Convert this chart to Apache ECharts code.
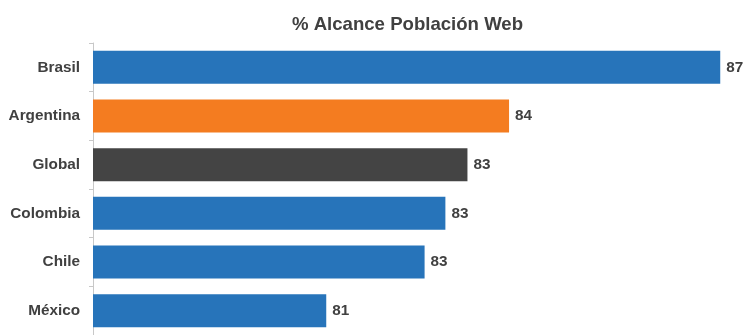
<!DOCTYPE html>
<html>
<head>
<meta charset="utf-8">
<script src="https://cdn.jsdelivr.net/npm/echarts@6/dist/echarts.min.js"></script>
<style>
  html, body { margin: 0; padding: 0; background: #fff; }
  #chart { width: 744px; height: 335px; }
</style>
</head>
<body>
<div id="chart"></div>
<script>
// Reach of web population by country (percent)
const countries = ['Brasil', 'Argentina', 'Global', 'Colombia', 'Chile', 'México'];
const reach = [87.25, 83.9, 83.24, 82.89, 82.56, 81.0];
const barColors = ['#2774BA', '#F47C20', '#444444', '#2774BA', '#2774BA', '#2774BA'];

const chart = echarts.init(document.getElementById('chart'), null, { renderer: 'canvas' });

chart.setOption({
  animation: false,
  backgroundColor: '#ffffff',
  title: {
    text: '% Alcance Población Web',
    left: 402.5,
    top: 10,
    textAlign: 'center',
    textStyle: {
      fontFamily: 'Liberation Sans',
      fontWeight: 'bold',
      fontSize: 18.6,
      color: '#404040'
    }
  },
  grid: { left: 93, right: 8, top: 43, bottom: -2, containLabel: false },
  xAxis: {
    type: 'value',
    min: 77.3,
    max: 87.5,
    show: false
  },
  yAxis: {
    type: 'category',
    data: countries,
    inverse: true,
    axisLine: { show: true, lineStyle: { color: '#c8c8c8', width: 1 } },
    axisTick: { show: true, length: 4, lineStyle: { color: '#c8c8c8' } },
    axisLabel: {
      margin: 13,
      fontFamily: 'Liberation Sans',
      fontWeight: 'bold',
      fontSize: 15.3,
      color: '#404040'
    },
    splitLine: { show: false }
  },
  series: [{
    type: 'bar',
    barWidth: 33,
    data: reach.map((v, i) => ({
      value: v,
      itemStyle: { color: barColors[i] }
    })),
    label: {
      show: true,
      position: 'right',
      distance: 6,
      formatter: p => Math.round(p.value),
      fontFamily: 'Liberation Sans',
      fontWeight: 'bold',
      fontSize: 15.3,
      color: '#404040'
    }
  }]
});
</script>
</body>
</html>
